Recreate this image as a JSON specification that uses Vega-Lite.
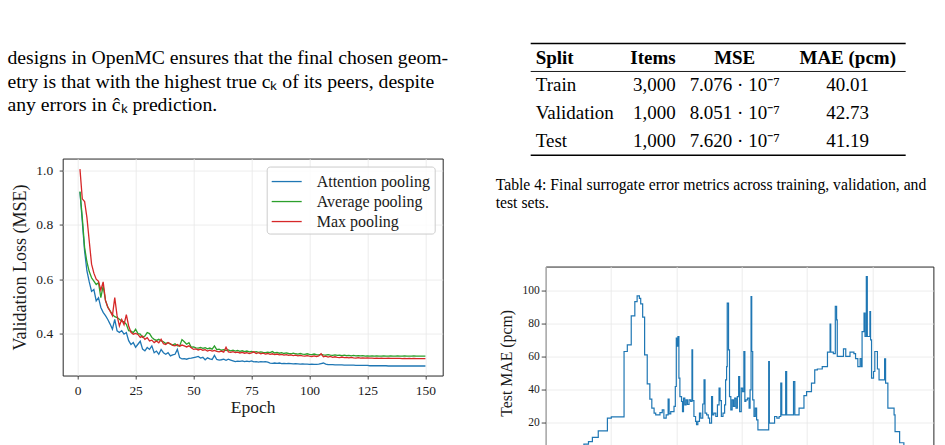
{
  "$schema": "https://vega.github.io/schema/vega-lite/v6.json",
  "background": "white",
  "padding": {"left": 6.7, "top": 42.55, "right": 0, "bottom": 0},
  "config": {
    "font": "Liberation Serif",
    "axis": {
      "labelFont": "Liberation Serif",
      "titleFont": "Liberation Serif",
      "titleFontWeight": "normal",
      "labelColor": "#1a1a1a",
      "titleColor": "#1a1a1a",
      "tickColor": "#1a1a1a",
      "tickWidth": 0.8,
      "domain": false,
      "gridColor": "#e8e8e8",
      "gridWidth": 0.8
    }
  },
  "datasets": {
    "paragraph": [
      {"line": 1, "text": "designs in OpenMC ensures that the final chosen geom-"},
      {"line": 2, "text": "etry is that with the highest true cₖ of its peers, despite"},
      {"line": 3, "text": "any errors in ĉₖ prediction."}
    ],
    "table": [
      {"row": "head", "col": "split", "text": "Split"},
      {"row": "head", "col": "items", "text": "Items"},
      {"row": "head", "col": "mse", "text": "MSE"},
      {"row": "head", "col": "mae", "text": "MAE (pcm)"},
      {"row": "train", "col": "split", "text": "Train"},
      {"row": "train", "col": "items", "text": "3,000"},
      {"row": "train", "col": "mse", "text": "7.076 · 10⁻⁷"},
      {"row": "train", "col": "mae", "text": "40.01"},
      {"row": "validation", "col": "split", "text": "Validation"},
      {"row": "validation", "col": "items", "text": "1,000"},
      {"row": "validation", "col": "mse", "text": "8.051 · 10⁻⁷"},
      {"row": "validation", "col": "mae", "text": "42.73"},
      {"row": "test", "col": "split", "text": "Test"},
      {"row": "test", "col": "items", "text": "1,000"},
      {"row": "test", "col": "mse", "text": "7.620 · 10⁻⁷"},
      {"row": "test", "col": "mae", "text": "41.19"}
    ],
    "loss": [
      {"epoch":1,"attention":0.920,"average":0.922,"max":1.004},
      {"epoch":2,"attention":0.812,"average":0.826,"max":0.895},
      {"epoch":3,"attention":0.703,"average":0.716,"max":0.885},
      {"epoch":4,"attention":0.630,"average":0.663,"max":0.826},
      {"epoch":5,"attention":0.590,"average":0.628,"max":0.740},
      {"epoch":6,"attention":0.555,"average":0.605,"max":0.655},
      {"epoch":7,"attention":0.562,"average":0.593,"max":0.622},
      {"epoch":8,"attention":0.520,"average":0.580,"max":0.600},
      {"epoch":9,"attention":0.532,"average":0.587,"max":0.592},
      {"epoch":10,"attention":0.496,"average":0.532,"max":0.560},
      {"epoch":11,"attention":0.478,"average":0.575,"max":0.590},
      {"epoch":12,"attention":0.466,"average":0.522,"max":0.522},
      {"epoch":13,"attention":0.452,"average":0.497,"max":0.497},
      {"epoch":14,"attention":0.435,"average":0.484,"max":0.482},
      {"epoch":15,"attention":0.416,"average":0.470,"max":0.466},
      {"epoch":16,"attention":0.452,"average":0.462,"max":0.532},
      {"epoch":17,"attention":0.410,"average":0.459,"max":0.466},
      {"epoch":18,"attention":0.404,"average":0.453,"max":0.428},
      {"epoch":19,"attention":0.411,"average":0.446,"max":0.452},
      {"epoch":20,"attention":0.398,"average":0.443,"max":0.433},
      {"epoch":21,"attention":0.404,"average":0.434,"max":0.470},
      {"epoch":22,"attention":0.374,"average":0.411,"max":0.428},
      {"epoch":23,"attention":0.360,"average":0.409,"max":0.405},
      {"epoch":24,"attention":0.367,"average":0.404,"max":0.398},
      {"epoch":25,"attention":0.350,"average":0.416,"max":0.401},
      {"epoch":26,"attention":0.361,"average":0.400,"max":0.397},
      {"epoch":27,"attention":0.372,"average":0.398,"max":0.386},
      {"epoch":28,"attention":0.343,"average":0.386,"max":0.391},
      {"epoch":29,"attention":0.337,"average":0.391,"max":0.379},
      {"epoch":30,"attention":0.349,"average":0.404,"max":0.385},
      {"epoch":31,"attention":0.342,"average":0.400,"max":0.373},
      {"epoch":32,"attention":0.355,"average":0.386,"max":0.376},
      {"epoch":33,"attention":0.330,"average":0.379,"max":0.367},
      {"epoch":34,"attention":0.336,"average":0.375,"max":0.373},
      {"epoch":35,"attention":0.324,"average":0.379,"max":0.366},
      {"epoch":36,"attention":0.342,"average":0.373,"max":0.379},
      {"epoch":37,"attention":0.330,"average":0.370,"max":0.363},
      {"epoch":38,"attention":0.324,"average":0.364,"max":0.360},
      {"epoch":39,"attention":0.330,"average":0.367,"max":0.367},
      {"epoch":40,"attention":0.318,"average":0.361,"max":0.363},
      {"epoch":41,"attention":0.322,"average":0.358,"max":0.357},
      {"epoch":42,"attention":0.324,"average":0.363,"max":0.355},
      {"epoch":43,"attention":0.342,"average":0.355,"max":0.360},
      {"epoch":44,"attention":0.312,"average":0.355,"max":0.354},
      {"epoch":45,"attention":0.307,"average":0.378,"max":0.358},
      {"epoch":46,"attention":0.308,"average":0.370,"max":0.355},
      {"epoch":47,"attention":0.306,"average":0.361,"max":0.351},
      {"epoch":48,"attention":0.309,"average":0.367,"max":0.355},
      {"epoch":49,"attention":0.310,"average":0.350,"max":0.348},
      {"epoch":50,"attention":0.312,"average":0.351,"max":0.342},
      {"epoch":51,"attention":0.314,"average":0.348,"max":0.344},
      {"epoch":52,"attention":0.316,"average":0.347,"max":0.340},
      {"epoch":53,"attention":0.310,"average":0.349,"max":0.343},
      {"epoch":54,"attention":0.313,"average":0.346,"max":0.339},
      {"epoch":55,"attention":0.304,"average":0.348,"max":0.341},
      {"epoch":56,"attention":0.311,"average":0.344,"max":0.336},
      {"epoch":57,"attention":0.307,"average":0.347,"max":0.339},
      {"epoch":58,"attention":0.305,"average":0.343,"max":0.336},
      {"epoch":59,"attention":0.320,"average":0.355,"max":0.338},
      {"epoch":60,"attention":0.305,"average":0.341,"max":0.335},
      {"epoch":61,"attention":0.303,"average":0.343,"max":0.333},
      {"epoch":62,"attention":0.304,"average":0.339,"max":0.336},
      {"epoch":63,"attention":0.306,"average":0.341,"max":0.332},
      {"epoch":64,"attention":0.302,"average":0.338,"max":0.350},
      {"epoch":65,"attention":0.306,"average":0.340,"max":0.333},
      {"epoch":66,"attention":0.303,"average":0.337,"max":0.331},
      {"epoch":67,"attention":0.300,"average":0.339,"max":0.334},
      {"epoch":68,"attention":0.297,"average":0.336,"max":0.330},
      {"epoch":69,"attention":0.299,"average":0.338,"max":0.332},
      {"epoch":70,"attention":0.298,"average":0.335,"max":0.329},
      {"epoch":71,"attention":0.300,"average":0.337,"max":0.331},
      {"epoch":72,"attention":0.297,"average":0.334,"max":0.328},
      {"epoch":73,"attention":0.299,"average":0.336,"max":0.330},
      {"epoch":74,"attention":0.297,"average":0.333,"max":0.327},
      {"epoch":75,"attention":0.300,"average":0.335,"max":0.329},
      {"epoch":76,"attention":0.296,"average":0.332,"max":0.333},
      {"epoch":77,"attention":0.297,"average":0.334,"max":0.327},
      {"epoch":78,"attention":0.295,"average":0.331,"max":0.330},
      {"epoch":79,"attention":0.297,"average":0.333,"max":0.326},
      {"epoch":80,"attention":0.296,"average":0.331,"max":0.328},
      {"epoch":81,"attention":0.297,"average":0.330,"max":0.325},
      {"epoch":82,"attention":0.295,"average":0.332,"max":0.327},
      {"epoch":83,"attention":0.292,"average":0.330,"max":0.324},
      {"epoch":84,"attention":0.291,"average":0.334,"max":0.326},
      {"epoch":85,"attention":0.292,"average":0.329,"max":0.323},
      {"epoch":86,"attention":0.291,"average":0.331,"max":0.325},
      {"epoch":87,"attention":0.292,"average":0.328,"max":0.322},
      {"epoch":88,"attention":0.290,"average":0.330,"max":0.324},
      {"epoch":89,"attention":0.291,"average":0.327,"max":0.321},
      {"epoch":90,"attention":0.290,"average":0.329,"max":0.323},
      {"epoch":91,"attention":0.291,"average":0.327,"max":0.320},
      {"epoch":92,"attention":0.290,"average":0.326,"max":0.322},
      {"epoch":93,"attention":0.289,"average":0.328,"max":0.319},
      {"epoch":94,"attention":0.290,"average":0.326,"max":0.321},
      {"epoch":95,"attention":0.289,"average":0.325,"max":0.318},
      {"epoch":96,"attention":0.288,"average":0.327,"max":0.320},
      {"epoch":97,"attention":0.289,"average":0.325,"max":0.318},
      {"epoch":98,"attention":0.288,"average":0.324,"max":0.317},
      {"epoch":99,"attention":0.288,"average":0.326,"max":0.319},
      {"epoch":100,"attention":0.287,"average":0.324,"max":0.317},
      {"epoch":101,"attention":0.288,"average":0.323,"max":0.316},
      {"epoch":102,"attention":0.287,"average":0.325,"max":0.318},
      {"epoch":103,"attention":0.287,"average":0.323,"max":0.316},
      {"epoch":104,"attention":0.288,"average":0.322,"max":0.318},
      {"epoch":105,"attention":0.290,"average":0.324,"max":0.326},
      {"epoch":106,"attention":0.292,"average":0.322,"max":0.315},
      {"epoch":107,"attention":0.288,"average":0.321,"max":0.317},
      {"epoch":108,"attention":0.286,"average":0.323,"max":0.314},
      {"epoch":109,"attention":0.286,"average":0.321,"max":0.316},
      {"epoch":110,"attention":0.286,"average":0.320,"max":0.313},
      {"epoch":111,"attention":0.285,"average":0.322,"max":0.315},
      {"epoch":112,"attention":0.285,"average":0.320,"max":0.313},
      {"epoch":113,"attention":0.285,"average":0.321,"max":0.312},
      {"epoch":114,"attention":0.285,"average":0.319,"max":0.314},
      {"epoch":115,"attention":0.284,"average":0.321,"max":0.312},
      {"epoch":116,"attention":0.284,"average":0.319,"max":0.313},
      {"epoch":117,"attention":0.284,"average":0.320,"max":0.311},
      {"epoch":118,"attention":0.284,"average":0.318,"max":0.313},
      {"epoch":119,"attention":0.284,"average":0.320,"max":0.311},
      {"epoch":120,"attention":0.283,"average":0.318,"max":0.310},
      {"epoch":121,"attention":0.283,"average":0.319,"max":0.312},
      {"epoch":122,"attention":0.283,"average":0.318,"max":0.310},
      {"epoch":123,"attention":0.283,"average":0.319,"max":0.311},
      {"epoch":124,"attention":0.283,"average":0.317,"max":0.310},
      {"epoch":125,"attention":0.283,"average":0.318,"max":0.311},
      {"epoch":126,"attention":0.282,"average":0.317,"max":0.310},
      {"epoch":127,"attention":0.282,"average":0.318,"max":0.310},
      {"epoch":128,"attention":0.282,"average":0.317,"max":0.309},
      {"epoch":129,"attention":0.282,"average":0.318,"max":0.310},
      {"epoch":130,"attention":0.282,"average":0.317,"max":0.309},
      {"epoch":131,"attention":0.282,"average":0.317,"max":0.310},
      {"epoch":132,"attention":0.282,"average":0.318,"max":0.309},
      {"epoch":133,"attention":0.282,"average":0.317,"max":0.309},
      {"epoch":134,"attention":0.281,"average":0.317,"max":0.310},
      {"epoch":135,"attention":0.281,"average":0.318,"max":0.309},
      {"epoch":136,"attention":0.281,"average":0.317,"max":0.309},
      {"epoch":137,"attention":0.281,"average":0.317,"max":0.309},
      {"epoch":138,"attention":0.281,"average":0.318,"max":0.309},
      {"epoch":139,"attention":0.281,"average":0.317,"max":0.309},
      {"epoch":140,"attention":0.281,"average":0.317,"max":0.308},
      {"epoch":141,"attention":0.281,"average":0.318,"max":0.309},
      {"epoch":142,"attention":0.281,"average":0.317,"max":0.308},
      {"epoch":143,"attention":0.281,"average":0.317,"max":0.309},
      {"epoch":144,"attention":0.281,"average":0.317,"max":0.308},
      {"epoch":145,"attention":0.281,"average":0.318,"max":0.309},
      {"epoch":146,"attention":0.281,"average":0.317,"max":0.308},
      {"epoch":147,"attention":0.281,"average":0.317,"max":0.308},
      {"epoch":148,"attention":0.281,"average":0.317,"max":0.308},
      {"epoch":149,"attention":0.281,"average":0.317,"max":0.308},
      {"epoch":150,"attention":0.281,"average":0.317,"max":0.308}
    ],
    "mae": [
      {"sample":54,"mae":2.5},{"sample":70,"mae":3.6},{"sample":86,"mae":4.5},{"sample":101,"mae":5.6},
      {"sample":117,"mae":6.7},{"sample":131,"mae":8.2},{"sample":143,"mae":10.7},{"sample":161,"mae":14.7},
      {"sample":189,"mae":22.4},{"sample":201,"mae":23.2},{"sample":240,"mae":62.8},{"sample":250,"mae":66.8},
      {"sample":262,"mae":84.4},{"sample":273,"mae":93.0},{"sample":280,"mae":96.5},{"sample":287,"mae":95.0},
      {"sample":291,"mae":91.7},{"sample":297,"mae":83.6},{"sample":303,"mae":60.8},{"sample":311,"mae":43.2},
      {"sample":319,"mae":34.0},{"sample":325,"mae":28.5},{"sample":332,"mae":25.4},{"sample":337,"mae":24.4},
      {"sample":350,"mae":25.8},{"sample":357,"mae":27.4},{"sample":362,"mae":22.4},{"sample":369,"mae":24.4},
      {"sample":375,"mae":34.0},{"sample":378,"mae":25.0},{"sample":383,"mae":26.4},{"sample":393,"mae":29.5},
      {"sample":397,"mae":41.6},{"sample":400,"mae":70.9},{"sample":403,"mae":66.0},{"sample":405,"mae":71.9},
      {"sample":408,"mae":46.7},{"sample":411,"mae":35.5},{"sample":416,"mae":32.5},{"sample":419,"mae":26.4},
      {"sample":422,"mae":34.5},{"sample":426,"mae":30.5},{"sample":430,"mae":33.5},{"sample":434,"mae":30.8},
      {"sample":439,"mae":33.5},{"sample":444,"mae":32.5},{"sample":448,"mae":63.8},{"sample":450,"mae":33.0},
      {"sample":454,"mae":23.4},{"sample":459,"mae":20.4},{"sample":462,"mae":18.4},{"sample":466,"mae":20.4},
      {"sample":471,"mae":25.5},{"sample":475,"mae":22.4},{"sample":481,"mae":31.0},{"sample":485,"mae":45.6},
      {"sample":488,"mae":25.5},{"sample":493,"mae":24.4},{"sample":498,"mae":22.4},{"sample":502,"mae":19.4},
      {"sample":508,"mae":35.5},{"sample":511,"mae":24.4},{"sample":515,"mae":25.5},{"sample":521,"mae":23.4},
      {"sample":526,"mae":30.5},{"sample":531,"mae":40.6},{"sample":534,"mae":33.0},{"sample":538,"mae":23.4},
      {"sample":543,"mae":25.5},{"sample":548,"mae":30.5},{"sample":551,"mae":45.6},{"sample":554,"mae":53.7},
      {"sample":556,"mae":92.1},{"sample":560,"mae":63.8},{"sample":563,"mae":35.5},{"sample":567,"mae":27.4},
      {"sample":571,"mae":33.5},{"sample":575,"mae":29.5},{"sample":579,"mae":34.5},{"sample":583,"mae":28.5},
      {"sample":587,"mae":35.5},{"sample":591,"mae":47.6},{"sample":594,"mae":26.4},{"sample":599,"mae":40.6},
      {"sample":603,"mae":38.5},{"sample":607,"mae":62.8},{"sample":610,"mae":32.5},{"sample":613,"mae":33.5},
      {"sample":618,"mae":34.5},{"sample":623,"mae":28.5},{"sample":626,"mae":39.5},{"sample":629,"mae":96.1},
      {"sample":631,"mae":62.8},{"sample":634,"mae":33.5},{"sample":638,"mae":23.4},{"sample":642,"mae":28.5},
      {"sample":646,"mae":21.4},{"sample":650,"mae":15.3},{"sample":683,"mae":56.7},{"sample":685,"mae":19.4},
      {"sample":701,"mae":23.4},{"sample":708,"mae":22.4},{"sample":715,"mae":23.4},{"sample":720,"mae":43.6},
      {"sample":723,"mae":24.4},{"sample":735,"mae":50.7},{"sample":738,"mae":24.4},{"sample":759,"mae":44.6},
      {"sample":763,"mae":24.4},{"sample":776,"mae":28.5},{"sample":791,"mae":36.1},{"sample":799,"mae":38.5},
      {"sample":814,"mae":43.6},{"sample":824,"mae":51.7},{"sample":832,"mae":52.2},{"sample":847,"mae":53.7},
      {"sample":863,"mae":62.4},{"sample":871,"mae":79.4},{"sample":873,"mae":62.4},{"sample":881,"mae":61.5},
      {"sample":887,"mae":90.1},{"sample":891,"mae":82.0},{"sample":893,"mae":59.8},{"sample":912,"mae":64.4},
      {"sample":919,"mae":59.8},{"sample":932,"mae":62.4},{"sample":944,"mae":61.5},{"sample":949,"mae":58.5},
      {"sample":956,"mae":53.7},{"sample":963,"mae":58.5},{"sample":967,"mae":53.7},{"sample":969,"mae":74.9},
      {"sample":975,"mae":86.1},{"sample":978,"mae":71.9},{"sample":982,"mae":108.2},{"sample":985,"mae":71.9},
      {"sample":993,"mae":87.0},{"sample":995,"mae":69.8},{"sample":998,"mae":46.7},{"sample":1004,"mae":50.7},
      {"sample":1008,"mae":62.8},{"sample":1016,"mae":52.2},{"sample":1021,"mae":45.6},{"sample":1038,"mae":58.4},
      {"sample":1041,"mae":43.6},{"sample":1048,"mae":28.5},{"sample":1067,"mae":24.4},{"sample":1070,"mae":14.3},
      {"sample":1084,"mae":7.5},{"sample":1097,"mae":5.5},{"sample":1112,"mae":4.0},{"sample":1124,"mae":3.0},
      {"sample":1134,"mae":3.0}
    ]
  },
  "spacing": 47,
  "resolve": {"legend": {"color": "independent"}, "scale": {"color": "independent"}},
  "hconcat": [
    {
      "spacing": 25,
      "resolve": {"legend": {"color": "independent"}, "scale": {"color": "independent"}},
      "vconcat": [
        {
          "width": 380,
          "height": {"step": 23.5},
          "view": {"stroke": null},
          "data": {"name": "paragraph"},
          "mark": {"type": "text", "align": "left", "baseline": "alphabetic", "dx": -55.3, "font": "Liberation Serif", "fontSize": 19.7, "color": "#000000"},
          "encoding": {
            "y": {"field": "line", "type": "ordinal", "axis": null, "scale": {"type": "band", "paddingInner": 0, "paddingOuter": 0.39}},
            "x": {"datum": 0, "type": "quantitative", "axis": null, "scale": {"domain": [0, 1]}},
            "text": {"field": "text"}
          }
        },
        {
          "width": 380,
          "height": 217,
          "view": {"stroke": "#262626", "strokeWidth": 1},
          "data": {"name": "loss"},
          "transform": [{"fold": ["attention", "average", "max"], "as": ["model", "loss"]}],
          "mark": {"type": "line", "strokeWidth": 1.3, "clip": true},
          "encoding": {
            "x": {
              "field": "epoch", "type": "quantitative",
              "scale": {"domain": [-6.45, 157.45], "nice": false, "zero": false},
              "axis": {"title": "Epoch", "values": [0, 25, 50, 75, 100, 125, 150], "labelFontSize": 13.5, "titleFontSize": 17.5, "tickSize": 3.5, "labelPadding": 4, "titlePadding": 1.5}
            },
            "y": {
              "field": "loss", "type": "quantitative",
              "scale": {"domain": [0.246, 1.043], "nice": false, "zero": false},
              "axis": {"title": "Validation Loss (MSE)", "values": [0.4, 0.6, 0.8, 1.0], "format": ".1f", "labelFontSize": 13.5, "titleFontSize": 18, "tickSize": 3.5, "labelPadding": 6.5, "titlePadding": 6}
            },
            "color": {
              "field": "model", "type": "nominal",
              "scale": {"domain": ["attention", "average", "max"], "range": ["#1f77b4", "#2ca02c", "#d62728"]},
              "legend": {
                "title": null,
                "orient": "top-right",
                "offset": 8.4,
                "labelExpr": "datum.label == 'attention' ? 'Attention pooling' : datum.label == 'average' ? 'Average pooling' : 'Max pooling'",
                "symbolType": "M-1,0H2",
                "symbolSize": 400,
                "symbolStrokeWidth": 1.3,
                "symbolFillColor": "transparent",
                "labelFont": "Liberation Serif",
                "labelFontSize": 16,
                "labelColor": "#1a1a1a",
                "labelOffset": 24,
                "padding": 4,
                "rowPadding": 1,
                "fillColor": "rgba(255,255,255,0.8)",
                "strokeColor": "#cccccc",
                "cornerRadius": 3
              }
            }
          }
        }
      ]
    },
    {
      "spacing": 54,
      "vconcat": [
        {
          "width": 360,
          "height": 111.7,
          "view": {"stroke": null},
          "data": {"name": "table"},
          "title": {
            "text": ["Table 4: Final surrogate error metrics across training, validation, and", "test sets."],
            "orient": "bottom", "anchor": "start", "frame": "group", "dx": -50, "offset": 22,
            "baseline": "top", "font": "Liberation Serif", "fontSize": 15.7, "fontWeight": "normal", "lineHeight": 18.4, "color": "#000000"
          },
          "encoding": {
            "y": {"field": "row", "type": "nominal", "axis": null, "scale": {"type": "band", "domain": ["head", "train", "validation", "test"], "paddingInner": 0, "paddingOuter": 0}}
          },
          "layer": [
            {
              "transform": [{"filter": "datum.col == 'split'"}],
              "mark": {"type": "text", "align": "left", "baseline": "middle", "font": "Liberation Serif", "fontSize": 19, "color": "#000000", "fontWeight": {"expr": "datum.row == 'head' ? 'bold' : 'normal'"}},
              "encoding": {
                "x": {"field": "col", "type": "nominal", "axis": null, "bandPosition": -0.111, "scale": {"type": "band", "domain": ["split", "items", "mse", "mae"], "paddingInner": 0, "paddingOuter": 0}},
                "text": {"field": "text"}
              }
            },
            {
              "transform": [{"filter": "datum.col == 'items'"}],
              "mark": {"type": "text", "align": "right", "baseline": "middle", "font": "Liberation Serif", "fontSize": 19, "color": "#000000", "fontWeight": {"expr": "datum.row == 'head' ? 'bold' : 'normal'"}},
              "encoding": {
                "x": {"field": "col", "type": "nominal", "axis": null, "bandPosition": 0.444},
                "text": {"field": "text"}
              }
            },
            {
              "transform": [{"filter": "datum.col == 'mse'"}],
              "mark": {"type": "text", "align": "center", "baseline": "middle", "font": "Liberation Serif", "fontSize": 19, "color": "#000000", "fontWeight": {"expr": "datum.row == 'head' ? 'bold' : 'normal'"}},
              "encoding": {
                "x": {"field": "col", "type": "nominal", "axis": null, "bandPosition": 0.1},
                "text": {"field": "text"}
              }
            },
            {
              "transform": [{"filter": "datum.col == 'mae'"}],
              "mark": {"type": "text", "align": "center", "baseline": "middle", "font": "Liberation Serif", "fontSize": 19, "color": "#000000", "fontWeight": {"expr": "datum.row == 'head' ? 'bold' : 'normal'"}},
              "encoding": {
                "x": {"field": "col", "type": "nominal", "axis": null, "bandPosition": 0.356},
                "text": {"field": "text"}
              }
            },
            {
              "data": {"values": [{"edge": "top"}]},
              "mark": {"type": "rule", "color": "#000000", "strokeWidth": 1.5},
              "encoding": {
                "y": {"datum": "head", "type": "nominal", "bandPosition": 0},
                "x": {"datum": "split", "type": "nominal", "bandPosition": -0.1667},
                "x2": {"datum": "mae", "bandPosition": 1}
              }
            },
            {
              "data": {"values": [{"edge": "mid"}]},
              "mark": {"type": "rule", "color": "#000000", "strokeWidth": 0.9},
              "encoding": {
                "y": {"datum": "train", "type": "nominal", "bandPosition": 0},
                "x": {"datum": "split", "type": "nominal", "bandPosition": -0.1667},
                "x2": {"datum": "mae", "bandPosition": 1}
              }
            },
            {
              "data": {"values": [{"edge": "bottom"}]},
              "mark": {"type": "rule", "color": "#000000", "strokeWidth": 1.5},
              "encoding": {
                "y": {"datum": "test", "type": "nominal", "bandPosition": 1},
                "x": {"datum": "split", "type": "nominal", "bandPosition": -0.1667},
                "x2": {"datum": "mae", "bandPosition": 1}
              }
            }
          ]
        },
        {
          "width": 387.7,
          "height": 192.7,
          "view": {"stroke": "#262626", "strokeWidth": 1},
          "data": {"name": "mae"},
          "mark": {"type": "line", "interpolate": "step-after", "strokeWidth": 1.2, "color": "#1f77b4", "clip": true},
          "encoding": {
            "x": {
              "field": "sample", "type": "quantitative",
              "scale": {"domain": [0, 1187.4], "nice": false, "zero": false},
              "axis": {"title": "Test sample", "values": [0, 200, 400, 600, 800, 1000], "labelFontSize": 11.5, "titleFontSize": 15.8, "tickSize": 4.5, "labelPadding": 3}
            },
            "y": {
              "field": "mae", "type": "quantitative",
              "scale": {"domain": [-2.5, 114.3], "nice": false, "zero": false},
              "axis": {"title": "Test MAE (pcm)", "values": [0, 20, 40, 60, 80, 100], "labelFontSize": 11.5, "titleFontSize": 15.8, "tickSize": 4.5, "labelPadding": 2, "titlePadding": 7.4}
            }
          }
        }
      ]
    }
  ]
}
